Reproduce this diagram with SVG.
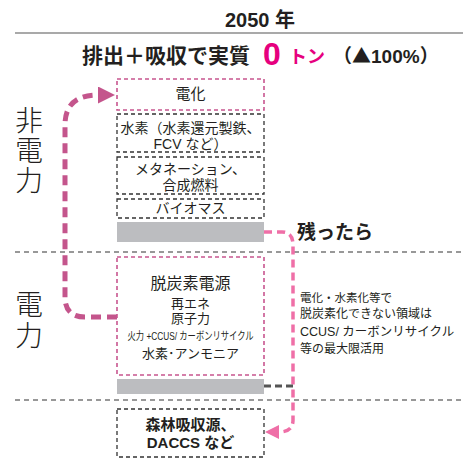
<svg xmlns="http://www.w3.org/2000/svg" width="472" height="459" viewBox="0 0 472 459">
<defs>
<style>
text{font-family:"Liberation Sans","Noto Sans CJK JP",sans-serif;fill:#231f20}
.c{text-anchor:middle}
.b{font-weight:bold}
.pk{fill:#e6007e}
.cjk{font-family:"Noto Sans CJK JP",sans-serif}
.box{fill:#fff;stroke:#333;stroke-width:1.3;stroke-dasharray:4 3}
.pbox{fill:#fff;stroke:#c8558f;stroke-width:1.6;stroke-dasharray:4 3}
.bar{fill:#bcbdc0}
.sep{stroke:#777;stroke-width:1.4;stroke-dasharray:5 4}
.vert{font-family:"Noto Sans CJK JP",sans-serif;font-size:28px;font-weight:300;writing-mode:vertical-rl}
</style>
<marker id="am" viewBox="0 0 10 10" refX="0" refY="5" markerWidth="3.6" markerHeight="3.4" markerUnits="strokeWidth" orient="auto"><path d="M0,0 L10,5 L0,10 z" fill="#c4558c"/></marker>
<marker id="ap" viewBox="0 0 10 10" refX="0" refY="5" markerWidth="4.4" markerHeight="4" markerUnits="strokeWidth" orient="auto"><path d="M0,0 L10,5 L0,10 z" fill="#ef6fa7"/></marker>
</defs>
<rect width="472" height="459" fill="#fff"/>
<g id="header">
<text x="260" y="27" class="c b" font-size="20">2050 年</text>
<line x1="15" y1="33" x2="463" y2="33" stroke="#555" stroke-width="1.2"/>
<text x="82" y="63" class="b" font-size="21">排出＋吸収で実質</text>
<text x="263" y="65" class="b pk" font-size="32">0</text>
<text x="289" y="63" class="b pk" font-size="18">トン</text>
<text x="333" y="63" class="b" font-size="19">（<tspan class="cjk">▲</tspan>100%）</text>
</g>
<g id="labels">
<text x="29" y="106" class="vert" letter-spacing="2">非電力</text>
<text x="29" y="290" class="vert" letter-spacing="3">電力</text>
</g>
<g id="separators">
<line x1="15" y1="252" x2="463" y2="252" class="sep"/>
<line x1="15" y1="400" x2="463" y2="400" class="sep"/>
</g>
<g id="connectors">
<path d="M117,317 H85 Q65,317 65,297 V125 Q65,95 98,95" fill="none" stroke="#c4558c" stroke-width="5" stroke-dasharray="10 6" marker-end="url(#am)"/>
<path d="M264,232 H282 Q293,232 293,245 V420 Q293,432 279,432" fill="none" stroke="#ef6fa7" stroke-width="3.5" stroke-dasharray="8 5" marker-end="url(#ap)"/>
<line x1="264" y1="386" x2="293" y2="386" stroke="#555" stroke-width="3" stroke-dasharray="7 4"/>
</g>
<g id="n-denka">
<rect x="117" y="79" width="147" height="31" class="pbox"/>
<text x="190.5" y="99" class="c" font-size="15">電化</text>
</g>
<g id="n-suiso">
<rect x="117" y="114" width="147" height="38" class="box"/>
<text class="c" font-size="14"><tspan x="190.5" y="133">水素（水素還元製鉄、</tspan><tspan x="190.5" y="149">FCV など）</tspan></text>
</g>
<g id="n-methanation">
<rect x="117" y="157" width="147" height="37" class="box"/>
<text class="c" font-size="14"><tspan x="190.5" y="174">メタネーション、</tspan><tspan x="190.5" y="190">合成燃料</tspan></text>
</g>
<g id="n-biomass">
<rect x="117" y="199" width="147" height="19" class="box"/>
<text x="190.5" y="213" class="c" font-size="14">バイオマス</text>
</g>
<g id="n-bar1"><rect x="117" y="222" width="147" height="20" class="bar"/></g>
<g id="n-dengen">
<rect x="117" y="257" width="147" height="118" class="pbox"/>
<text class="c" font-size="13"><tspan x="190.5" y="289" font-size="16">脱炭素電源</tspan><tspan x="190.5" y="308">再エネ</tspan><tspan x="190.5" y="323">原子力</tspan><tspan x="190.5" y="340" font-size="11" textLength="126" lengthAdjust="spacingAndGlyphs">火力 +CCUS/ カーボンリサイクル</tspan><tspan x="190.5" y="358">水素･アンモニア</tspan></text>
</g>
<g id="n-bar2"><rect x="117" y="379" width="147" height="15" class="bar"/></g>
<g id="n-forest">
<rect x="117" y="409" width="147" height="48" class="box"/>
<text class="c b" font-size="15"><tspan x="190.5" y="430">森林吸収源、</tspan><tspan x="190.5" y="448">DACCS など</tspan></text>
</g>
<g id="notes">
<text x="297" y="239" class="b" font-size="19">残ったら</text>
<text font-size="12"><tspan x="300" y="302" font-size="11.5">電化・水素化等で</tspan><tspan x="300" y="318">脱炭素化できない領域は</tspan><tspan x="300" y="336" font-size="12.5">CCUS/ カーボンリサイクル</tspan><tspan x="300" y="353">等の最大限活用</tspan></text>
</g>
</svg>
